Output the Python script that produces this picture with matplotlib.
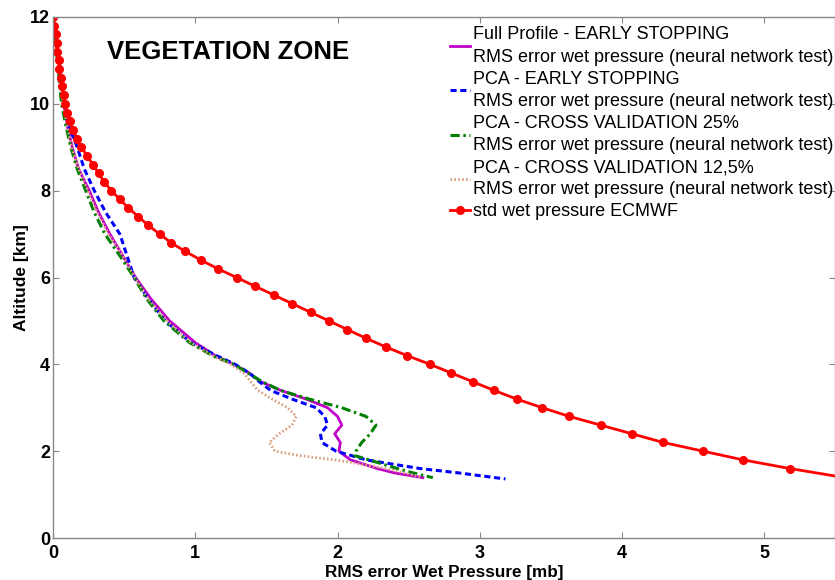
"""Vegetation zone: RMS error of wet pressure vs altitude."""

import matplotlib
matplotlib.use("Agg")
import matplotlib.pyplot as plt

plt.rcParams["font.family"] = ["Liberation Sans", "DejaVu Sans"]

# std wet pressure ECMWF (red, markers every 0.2 km)
ecmwf_alt = [12.0, 11.8, 11.6, 11.4, 11.2, 11.0, 10.8, 10.6, 10.4, 10.2,
             10.0, 9.8, 9.6, 9.4, 9.2, 9.0, 8.8, 8.6, 8.4, 8.2,
             8.0, 7.8, 7.6, 7.4, 7.2, 7.0, 6.8, 6.6, 6.4, 6.2,
             6.0, 5.8, 5.6, 5.4, 5.2, 5.0, 4.8, 4.6, 4.4, 4.2,
             4.0, 3.8, 3.6, 3.4, 3.2, 3.0, 2.8, 2.6, 2.4, 2.2,
             2.0, 1.8, 1.6, 1.4]
ecmwf_std = [0.00, 0.01, 0.02, 0.025, 0.03, 0.04, 0.045, 0.055, 0.065, 0.075,
             0.085, 0.10, 0.12, 0.14, 0.17, 0.20, 0.24, 0.28, 0.32, 0.36,
             0.41, 0.47, 0.53, 0.60, 0.67, 0.75, 0.83, 0.93, 1.04, 1.16,
             1.29, 1.42, 1.55, 1.68, 1.81, 1.94, 2.07, 2.20, 2.34, 2.49,
             2.65, 2.80, 2.95, 3.10, 3.26, 3.44, 3.63, 3.85, 4.07, 4.29,
             4.57, 4.85, 5.18, 5.55]

# Full Profile - early stopping (magenta)
full_alt = [12.0, 11.5, 11.0, 10.5, 10.0, 9.5, 9.0, 8.5, 8.0, 7.5, 7.0, 6.5,
            6.0, 5.5, 5.0, 4.5, 4.2, 4.0, 3.8, 3.6, 3.4, 3.2, 3.0, 2.8, 2.6,
            2.4, 2.2, 2.0, 1.8, 1.6, 1.5, 1.39]
full_rms = [0.00, 0.02, 0.04, 0.055, 0.075, 0.10, 0.135, 0.18, 0.255, 0.32,
            0.40, 0.49, 0.58, 0.69, 0.82, 1.00, 1.14, 1.27, 1.38, 1.46, 1.60,
            1.78, 1.93, 2.00, 2.03, 1.98, 2.02, 2.01, 2.09, 2.28, 2.40, 2.60]

# PCA - early stopping (blue dashed)
pca_es_alt = [12.0, 11.5, 11.0, 10.5, 10.0, 9.5, 9.0, 8.5, 8.0, 7.5, 7.0, 6.5,
              6.0, 5.5, 5.0, 4.5, 4.2, 4.0, 3.8, 3.6, 3.4, 3.2, 3.0, 2.8, 2.6,
              2.4, 2.2, 2.0, 1.8, 1.6, 1.5, 1.36]
pca_es_rms = [0.00, 0.02, 0.045, 0.06, 0.08, 0.11, 0.17, 0.22, 0.29, 0.37,
              0.47, 0.52, 0.57, 0.67, 0.79, 0.97, 1.15, 1.28, 1.38, 1.45, 1.53,
              1.68, 1.85, 1.91, 1.93, 1.88, 1.89, 1.99, 2.20, 2.58, 2.85, 3.18]

# PCA - cross validation 25% (green dash-dot)
pca_cv25_alt = [12.0, 11.5, 11.0, 10.5, 10.0, 9.5, 9.0, 8.5, 8.0, 7.5, 7.0,
                6.5, 6.0, 5.5, 5.0, 4.5, 4.2, 4.0, 3.8, 3.6, 3.4, 3.2, 3.0,
                2.8, 2.6, 2.4, 2.2, 2.0, 1.9, 1.8, 1.6, 1.5, 1.39]
pca_cv25_rms = [0.00, 0.015, 0.03, 0.045, 0.06, 0.09, 0.125, 0.17, 0.23, 0.29,
                0.365, 0.47, 0.57, 0.66, 0.78, 0.96, 1.12, 1.27, 1.37, 1.47,
                1.60, 1.80, 2.03, 2.20, 2.27, 2.23, 2.17, 2.13, 2.12, 2.22,
                2.42, 2.53, 2.67]

# PCA - cross validation 12,5% (tan dotted)
pca_cv12_alt = [12.0, 11.5, 11.0, 10.5, 10.0, 9.5, 9.0, 8.5, 8.0, 7.5, 7.0,
                6.5, 6.0, 5.5, 5.0, 4.5, 4.2, 4.0, 3.8, 3.6, 3.4, 3.2, 3.0,
                2.8, 2.6, 2.4, 2.2, 2.0, 1.9, 1.8, 1.7, 1.6, 1.5, 1.41]
pca_cv12_rms = [0.00, 0.02, 0.04, 0.055, 0.07, 0.10, 0.13, 0.18, 0.245, 0.31,
                0.39, 0.49, 0.575, 0.67, 0.80, 0.97, 1.12, 1.25, 1.34, 1.39,
                1.44, 1.54, 1.65, 1.71, 1.68, 1.59, 1.52, 1.56, 1.73, 1.98,
                2.17, 2.34, 2.47, 2.58]

label_tail = "\nRMS error wet pressure (neural network test)"


def main() -> None:
    fig = plt.figure(figsize=(8.35, 5.8), dpi=100)
    ax = fig.add_axes([0.0635, 0.0724, 0.937, 0.8983])

    ax.plot(full_rms, full_alt, color="#C000C8", lw=2.0,
            label="Full Profile - EARLY STOPPING" + label_tail)
    ax.plot(pca_es_rms, pca_es_alt, color="#0000FF", lw=2.2,
            dashes=(2.0, 1.2), label="PCA - EARLY STOPPING" + label_tail)
    ax.plot(pca_cv25_rms, pca_cv25_alt, color="#008000", lw=2.2,
            dashes=(3.0, 1.2, 0.8, 1.2),
            label="PCA - CROSS VALIDATION 25%" + label_tail)
    ax.plot(pca_cv12_rms, pca_cv12_alt, color="#D8A080", lw=2.0,
            dashes=(0.6, 0.8), label="PCA - CROSS VALIDATION 12,5%" + label_tail)
    ax.plot(ecmwf_std, ecmwf_alt, color="#FF0000", lw=2.0, marker="o",
            markersize=5.5, label="std wet pressure ECMWF")

    ax.set_xlim(0, 5.5)
    ax.set_ylim(0, 12)
    ax.set_xticks([0, 1, 2, 3, 4, 5])
    ax.set_yticks([0, 2, 4, 6, 8, 10, 12])
    ax.tick_params(direction="in", top=True, right=True, length=4,
                   color="#888888", labelsize=13)
    ax.tick_params(axis="x", pad=5)
    ax.tick_params(axis="y", pad=2)
    for lab in ax.get_xticklabels() + ax.get_yticklabels():
        lab.set_fontweight("bold")
    for spine in ax.spines.values():
        spine.set_color("#888888")
        spine.set_linewidth(1.0)

    ax.set_xlabel("RMS error Wet Pressure [mb]", fontsize=12.3,
                  fontweight="bold", labelpad=2)
    ax.set_ylabel("Altitude [km]", fontsize=12.5, fontweight="bold",
                  labelpad=0.5)

    ax.text(0.224, 0.932, "VEGETATION ZONE", transform=ax.transAxes,
            ha="center", va="center", fontsize=18.5, fontweight="bold")

    leg = ax.legend(loc="upper right", bbox_to_anchor=(0.998, 0.982),
                    frameon=False, fontsize=13, handlelength=1.1,
                    handletextpad=0.2, labelspacing=0.28, borderpad=0.0,
                    borderaxespad=0.0)
    for txt in leg.get_texts():
        txt.set_linespacing(1.4)

    fig.savefig("out.png", dpi=100)
    plt.close(fig)


if __name__ == "__main__":
    main()
